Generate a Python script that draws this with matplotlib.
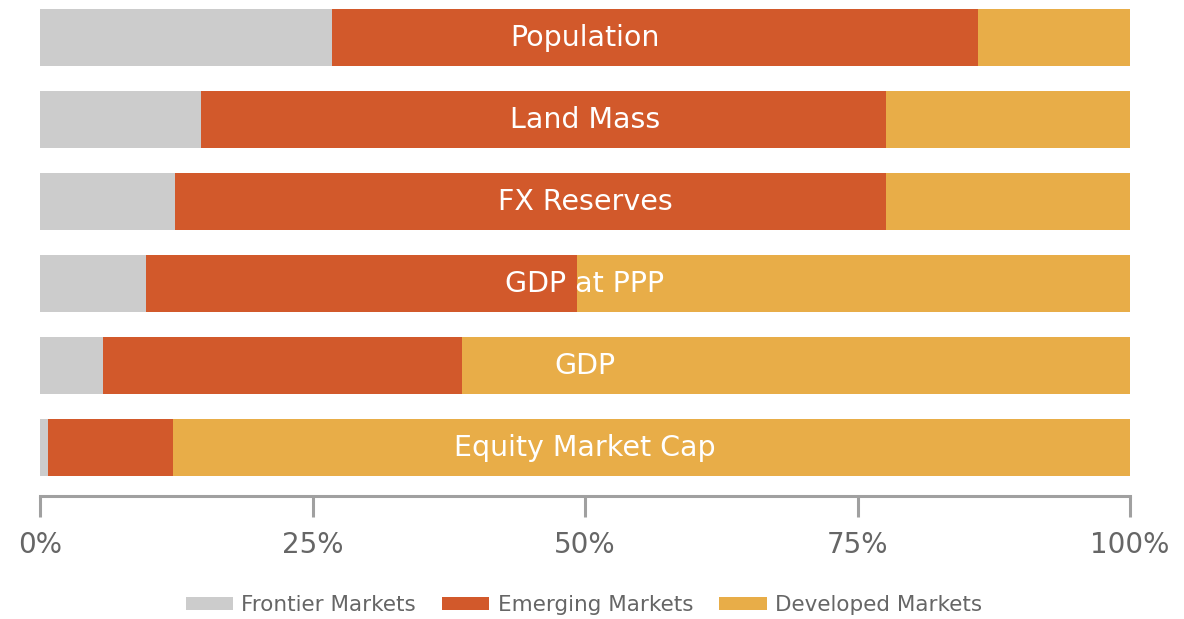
import numpy as np
import matplotlib.pyplot as plt

categories = ['Population', 'Land Mass', 'FX Reserves', 'GDP at PPP', 'GDP', 'Equity Market Cap']
frontier = [26.8, 14.8, 12.4, 9.7, 5.8, 0.7]
emerging = [59.3, 62.8, 65.2, 39.6, 32.9, 11.5]
developed = [100 - f - e for f, e in zip(frontier, emerging)]
series_names = ['Frontier Markets', 'Emerging Markets', 'Developed Markets']
colors = ['#cccccc', '#d2592b', '#e8ad48']
xticks = [0, 25, 50, 75, 100]
xticklabels = ['0%', '25%', '50%', '75%', '100%']

fig = plt.figure(figsize=(11.84, 6.19), dpi=100)
ax = fig.add_axes([40 / 1184, 1 - 496 / 619, 1090 / 1184, 496 / 619])

y = np.arange(len(categories))
left = np.zeros(len(categories))
for vals, name, c in zip([frontier, emerging, developed], series_names, colors):
    ax.barh(y, vals, left=left, height=0.695, color=c, label=name)
    left += np.array(vals)

# category name in the middle of each bar
for i, cat in enumerate(categories):
    ax.text(50, i + 0.01, cat, ha='center', va='center', color='white', fontsize=20.5)

ax.set_xlim(0, 100)
ax.set_ylim(5 + 48.5 / 82, -37.5 / 82)
ax.set_yticks([])
ax.set_xticks(xticks)
ax.set_xticklabels(xticklabels, fontsize=20, color='#666666')
ax.tick_params(axis='x', length=15, width=2.2, color='#a0a0a0', pad=10)
for s in ['top', 'right', 'left']:
    ax.spines[s].set_visible(False)
ax.spines['bottom'].set_color('#a0a0a0')
ax.spines['bottom'].set_linewidth(2.2)

leg = fig.legend(loc='center', bbox_to_anchor=(584 / 1184, 1 - 605 / 619), ncol=3,
                 frameon=False, fontsize=15.5, handlelength=2.2, handleheight=0.6,
                 columnspacing=1.2, handletextpad=0.4)
for t in leg.get_texts():
    t.set_color('#666666')

fig.savefig('out.png', dpi=100)
